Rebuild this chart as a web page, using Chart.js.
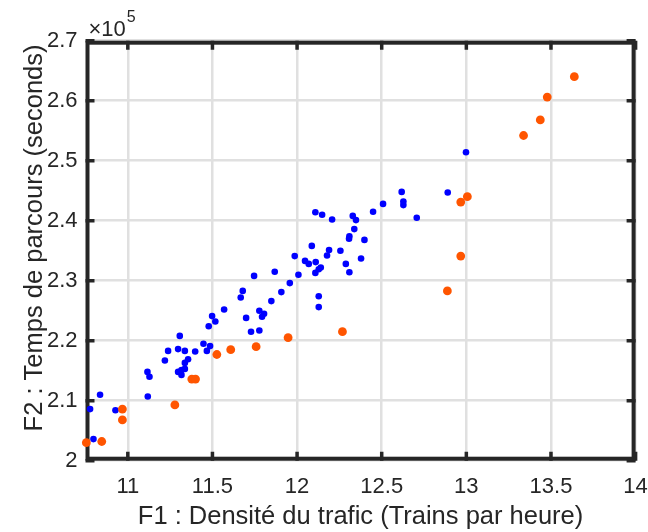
<!DOCTYPE html>
<html>
<head>
<meta charset="utf-8">
<script src="https://cdn.jsdelivr.net/npm/chart.js@4"></script>
<style>
  body { margin: 0; background: #fff; }
</style>
</head>
<body>
<canvas id="myChart" width="648" height="532"></canvas>
<script>
// F1 : trains par heure, F2 : temps de parcours (en 10^5 s)
var bleuF1 = [10.797, 10.777, 10.836, 10.927, 11.118, 11.116, 11.128, 11.219, 11.238, 11.297,
  11.337, 11.398, 11.356, 11.337, 11.297, 11.317, 11.337, 11.317, 11.307, 11.447,
  11.486, 11.467, 11.478, 11.498, 11.517, 11.569, 11.667, 11.679, 11.699, 11.728,
  11.777, 11.777, 11.805, 11.793, 11.746, 11.848, 11.868, 11.907, 11.957, 12.008,
  11.986, 12.047, 12.069, 12.110, 12.140, 12.128, 12.108, 12.128, 12.128, 12.087,
  12.189, 12.177, 12.256, 12.288, 12.309, 12.378, 12.309, 12.307, 12.338, 12.398,
  12.329, 12.348, 12.108, 12.148, 12.207, 12.449, 12.508, 12.618, 12.628, 12.628,
  12.707, 12.890, 12.998];
var bleuF2 = [2.036, 2.086, 2.110, 2.084, 2.107, 2.148, 2.140, 2.167, 2.183, 2.186,
  2.183, 2.182, 2.169, 2.163, 2.148, 2.151, 2.153, 2.143, 2.208, 2.195,
  2.191, 2.183, 2.224, 2.241, 2.232, 2.252, 2.272, 2.283, 2.238, 2.215,
  2.217, 2.250, 2.245, 2.240, 2.308, 2.266, 2.315, 2.281, 2.296, 2.310,
  2.341, 2.333, 2.328, 2.331, 2.322, 2.319, 2.313, 2.274, 2.256, 2.358,
  2.351, 2.342, 2.350, 2.328, 2.314, 2.337, 2.374, 2.370, 2.386, 2.368,
  2.408, 2.401, 2.414, 2.410, 2.402, 2.415, 2.428, 2.448, 2.432, 2.426,
  2.405, 2.447, 2.514];
var orangeF1 = [10.755, 10.846, 10.968, 10.968, 11.278, 11.378, 11.400, 11.526, 11.608, 11.758,
  11.947, 12.268, 12.888, 12.967, 12.967, 13.006, 13.338, 13.437, 13.478, 13.638];
var orangeF2 = [2.030, 2.032, 2.086, 2.068, 2.093, 2.136, 2.136, 2.177, 2.185, 2.190,
  2.205, 2.215, 2.283, 2.341, 2.431, 2.440, 2.542, 2.568, 2.606, 2.640];
var xTicks = [11, 11.5, 12, 12.5, 13, 13.5, 14];
var yTicks = [2, 2.1, 2.2, 2.3, 2.4, 2.5, 2.6, 2.7];

var police = 'Liberation Sans, Arial, Helvetica, sans-serif';
var gris = '#262626';

function pts(xs, ys) {
  return xs.map(function (x, i) { return { x: x, y: ys[i] }; });
}
function fmt(v) { return String(Math.round(v * 10) / 10); }

// cadre noir + graduations vers l'interieur, facon MATLAB
var cadre = {
  id: 'cadre',
  beforeDatasetsDraw: function (chart) {
    var ctx = chart.ctx, a = chart.chartArea;
    var sx = chart.scales.x, sy = chart.scales.y;
    ctx.save();
    ctx.strokeStyle = gris;
    ctx.lineWidth = 3.5;
    xTicks.forEach(function (v) {
      var p = sx.getPixelForValue(v);
      ctx.beginPath();
      ctx.moveTo(p, a.bottom); ctx.lineTo(p, a.bottom - 9);
      ctx.moveTo(p, a.top); ctx.lineTo(p, a.top + 9);
      ctx.stroke();
    });
    yTicks.forEach(function (v) {
      var p = sy.getPixelForValue(v);
      ctx.beginPath();
      ctx.moveTo(a.left, p); ctx.lineTo(a.left + 9, p);
      ctx.moveTo(a.right, p); ctx.lineTo(a.right - 9, p);
      ctx.stroke();
    });
    ctx.lineWidth = 4;
    ctx.strokeRect(a.left + 2, a.top + 2, a.right - a.left - 4, a.bottom - a.top - 4);
    ctx.restore();
  },
  afterDraw: function (chart) {
    var ctx = chart.ctx, a = chart.chartArea;
    ctx.save();
    ctx.fillStyle = gris;
    ctx.textBaseline = 'alphabetic';
    ctx.textAlign = 'left';
    ctx.font = '22px ' + police;
    ctx.fillText('\u00d710', a.left + 3, a.top - 5);
    var w = ctx.measureText('\u00d710').width;
    ctx.font = '16px ' + police;
    ctx.fillText('5', a.left + 4 + w, a.top - 19);
    ctx.restore();
  }
};

var ctx = document.getElementById('myChart').getContext('2d');
var myChart = new Chart(ctx, {
  type: 'scatter',
  data: {
    datasets: [{
      label: 'bleu',
      data: pts(bleuF1, bleuF2),
      backgroundColor: '#0000ff',
      borderWidth: 0,
      pointRadius: 3.3,
      clip: false,
      order: 2
    }, {
      label: 'orange',
      data: pts(orangeF1, orangeF2),
      backgroundColor: 'rgb(255, 85, 0)',
      borderWidth: 0,
      pointRadius: 4.4,
      clip: false,
      order: 1
    }]
  },
  options: {
    responsive: false,
    animation: false,
    layout: { padding: { top: 40.7, right: 12.4, left: 0, bottom: 0 } },
    plugins: {
      legend: { display: false },
      tooltip: { enabled: false }
    },
    scales: {
      x: {
        type: 'linear',
        position: 'bottom',
        min: 10.75,
        max: 14,
        afterBuildTicks: function (s) { s.ticks = xTicks.map(function (v) { return { value: v }; }); },
        afterFit: function (s) { s.height = 71.3; s.paddingLeft = 0; s.paddingRight = 0; },
        grid: { color: '#e0e0e0', lineWidth: 2.5, drawTicks: false },
        border: { display: false },
        ticks: { color: gris, padding: 13, maxRotation: 0, font: { family: police, size: 22 }, callback: fmt },
        title: {
          display: true,
          text: 'F1 : Densit\u00e9 du trafic (Trains par heure)',
          color: gris,
          font: { family: police, size: 25.5 },
          padding: { top: 0, bottom: 0 }
        }
      },
      y: {
        type: 'linear',
        min: 2,
        max: 2.7,
        afterBuildTicks: function (s) { s.ticks = yTicks.map(function (v) { return { value: v }; }); },
        afterFit: function (s) { s.width = 85.5; s.paddingTop = 0; s.paddingBottom = 0; },
        grid: { color: '#e0e0e0', lineWidth: 2.5, drawTicks: false },
        border: { display: false },
        ticks: { color: gris, padding: 8, font: { family: police, size: 22 }, callback: fmt },
        title: {
          display: true,
          // deux espaces en tete : le libelle est un peu decale vers le haut dans l'original
          text: '\u2002\u2002F2 : Temps de parcours (seconds)',
          color: gris,
          font: { family: police, size: 25.5 },
          padding: { top: 19.7, bottom: 0 }
        }
      }
    }
  },
  plugins: [cadre]
});
</script>
</body>
</html>
